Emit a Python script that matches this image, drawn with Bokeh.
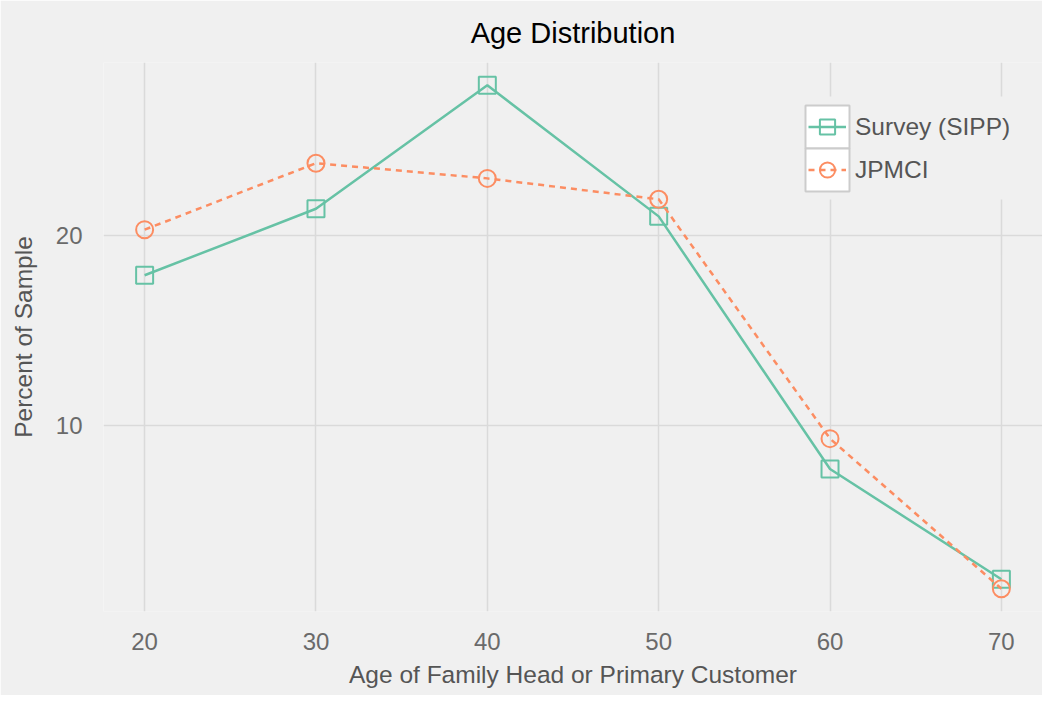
from bokeh.plotting import figure
from bokeh.models import (Range1d, FixedTicker, Legend, LegendItem, BoxAnnotation)
from bokeh.embed import file_html
from bokeh.resources import INLINE

# ---- data ----
ages = [20, 30, 40, 50, 60, 70]
survey_sipp = [17.9, 21.4, 27.9, 21.0, 7.7, 1.9]
jpmci = [20.3, 23.8, 23.0, 21.9, 9.3, 1.4]
x_ticks = [20, 30, 40, 50, 60, 70]
y_ticks = [10, 20]

GREEN = "#66c2a5"
ORANGE = "#fc8d62"
BG = "#f0f0f0"
GRID = "#dadada"
FONT = "Liberation Sans"

p = figure(width=1042, height=695, output_backend="svg", toolbar_location=None,
           x_range=Range1d(17.6, 72.4), y_range=Range1d(0.2, 29.1),
           min_border_left=103, min_border_right=0, min_border_top=62,
           min_border_bottom=84)

p.background_fill_color = BG
p.border_fill_color = BG
p.outline_line_color = None

p.title.text = "Age Distribution"
p.title.align = "center"
p.title.text_font = FONT
p.title.text_font_size = "29px"
p.title.text_font_style = "normal"
p.title.text_color = "#000000"
p.title.standoff = 27

for ax in (p.xaxis[0], p.yaxis[0]):
    ax.axis_line_color = None
    ax.major_tick_line_color = None
    ax.minor_tick_line_color = None
    ax.major_label_text_font = FONT
    ax.major_label_text_font_size = "24px"
    ax.major_label_text_color = "#6a6a6a"
    ax.axis_label_text_font = FONT
    ax.axis_label_text_font_size = "24.5px"
    ax.axis_label_text_font_style = "normal"
    ax.axis_label_text_color = "#555555"

p.xaxis.ticker = FixedTicker(ticks=x_ticks)
p.yaxis.ticker = FixedTicker(ticks=y_ticks)
p.xaxis.axis_label = "Age of Family Head or Primary Customer"
p.yaxis.axis_label = "Percent of Sample"
p.xaxis.major_label_standoff = 15
p.xaxis.axis_label_standoff = 8
p.yaxis.major_label_standoff = 15
p.yaxis.axis_label_standoff = 16
p.yaxis.major_label_orientation = "horizontal"

p.grid.grid_line_color = GRID
p.grid.grid_line_width = 1.5
p.xgrid.ticker = FixedTicker(ticks=x_ticks)
p.ygrid.ticker = FixedTicker(ticks=y_ticks)

l1 = p.line(ages, survey_sipp, line_color=GREEN, line_width=2.5)
m1 = p.scatter(ages, survey_sipp, marker="square", size=17, fill_color=None,
               line_color=GREEN, line_width=2)
l2 = p.line(ages, jpmci, line_color=ORANGE, line_width=2.5, line_dash="6 5")
m2 = p.scatter(ages, jpmci, marker="circle", size=17, fill_color=None,
               line_color=ORANGE, line_width=2)

# legend background (hides grid) and white glyph boxes
bg_box = BoxAnnotation(left=797, right=1014, top=96, bottom=199,
                       left_units="canvas", right_units="canvas",
                       top_units="canvas", bottom_units="canvas",
                       fill_color=BG, fill_alpha=1, line_color=None)
box1 = BoxAnnotation(left=805, right=849, top=105, bottom=148,
                     left_units="canvas", right_units="canvas",
                     top_units="canvas", bottom_units="canvas",
                     fill_color="white", fill_alpha=1, line_color="#cccccc",
                     line_width=2, line_alpha=1)
box2 = BoxAnnotation(left=805, right=849, top=148, bottom=191,
                     left_units="canvas", right_units="canvas",
                     top_units="canvas", bottom_units="canvas",
                     fill_color="white", fill_alpha=1, line_color="#cccccc",
                     line_width=2, line_alpha=1)
for b in (bg_box, box1, box2):
    p.add_layout(b)

legend = Legend(items=[LegendItem(label="Survey (SIPP)", renderers=[l1, m1]),
                       LegendItem(label="JPMCI", renderers=[l2, m2])],
                location=(705, 420), padding=0, margin=0, spacing=0,
                glyph_width=38, glyph_height=43, label_standoff=9,
                label_text_font=FONT, label_text_font_size="24.5px",
                label_text_color="#555555",
                background_fill_alpha=0, border_line_color=None)
p.add_layout(legend)

open("out.html", "w").write(file_html(p, INLINE))
